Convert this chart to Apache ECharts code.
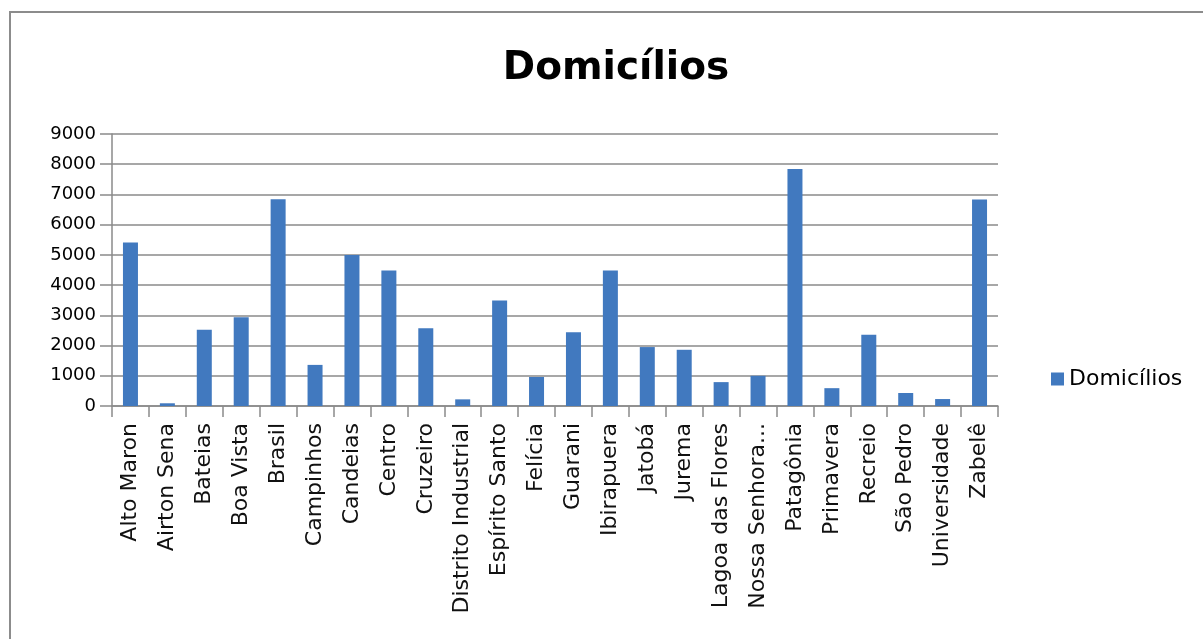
<!DOCTYPE html>
<html>
<head>
<meta charset="utf-8">
<script src="https://cdn.jsdelivr.net/npm/echarts@6/dist/echarts.min.js"></script>
<style>
    html, body { margin: 0; padding: 0; background: #fff; }
    #chart { width: 1203px; height: 639px; }
</style>
</head>
<body>
<div id="chart"></div>
<script>
// bairros e número de domicílios
var bairros = ['Alto Maron', 'Airton Sena', 'Bateias', 'Boa Vista', 'Brasil', 'Campinhos',
    'Candeias', 'Centro', 'Cruzeiro', 'Distrito Industrial', 'Espírito Santo', 'Felícia',
    'Guarani', 'Ibirapuera', 'Jatobá', 'Jurema', 'Lagoa das Flores', 'Nossa Senhora...',
    'Patagônia', 'Primavera', 'Recreio', 'São Pedro', 'Universidade', 'Zabelê'];
var domicilios = [5410, 90, 2520, 2940, 6840, 1360, 5000, 4480, 2570, 220, 3490, 960,
    2440, 4480, 1950, 1860, 790, 1000, 7840, 590, 2360, 430, 230, 6830];
var yTicks = [0, 1000, 2000, 3000, 4000, 5000, 6000, 7000, 8000, 9000];

var font = 'DejaVu Sans';
var gray = '#8a8a8a';

var myChart = echarts.init(document.getElementById('chart'), null, {renderer: 'canvas'});

var option = {
    animation: false,
    backgroundColor: '#fff',
    title: {
        text: 'Domicílios',
        left: 611,
        textAlign: 'center',
        top: 44,
        textStyle: {
            fontFamily: font,
            fontWeight: 'bold',
            fontSize: 39,
            color: '#000'
        }
    },
    legend: {
        data: ['Domicílios'],
        left: 1046,
        top: 363,
        icon: 'rect',
        itemWidth: 13,
        itemHeight: 13,
        itemGap: 6,
        textStyle: {
            fontFamily: font,
            fontSize: 22,
            color: '#000'
        }
    },
    grid: {
        left: 112,
        right: 205,
        top: 134,
        bottom: 233
    },
    xAxis: {
        type: 'category',
        data: bairros,
        boundaryGap: true,
        axisLine: {
            lineStyle: {color: gray, width: 1.5}
        },
        axisTick: {
            show: true,
            length: 11,
            lineStyle: {color: gray, width: 1.5}
        },
        axisLabel: {
            interval: 0,
            rotate: 90,
            margin: 17,
            fontFamily: font,
            fontSize: 22,
            color: '#111'
        }
    },
    yAxis: {
        type: 'value',
        min: yTicks[0],
        max: yTicks[yTicks.length - 1],
        interval: 1000,
        axisLine: {
            show: true,
            lineStyle: {color: gray, width: 1.5}
        },
        axisTick: {
            show: true,
            length: 12,
            lineStyle: {color: gray, width: 1.5}
        },
        splitLine: {
            lineStyle: {color: gray, width: 1.5}
        },
        axisLabel: {
            margin: 16,
            fontFamily: font,
            fontSize: 18,
            color: '#000',
            formatter: function(v) {
                return String(v);
            }
        }
    },
    graphic: [{
        type: 'rect',
        shape: {x: 10, y: 12, width: 1300, height: 700},
        style: {fill: null, stroke: '#8c8c8c', lineWidth: 2},
        silent: true
    }],
    series: [{
        name: 'Domicílios',
        type: 'bar',
        data: domicilios,
        barWidth: 15,
        itemStyle: {color: '#4179bf'}
    }]
};

myChart.setOption(option);
</script>
</body>
</html>
